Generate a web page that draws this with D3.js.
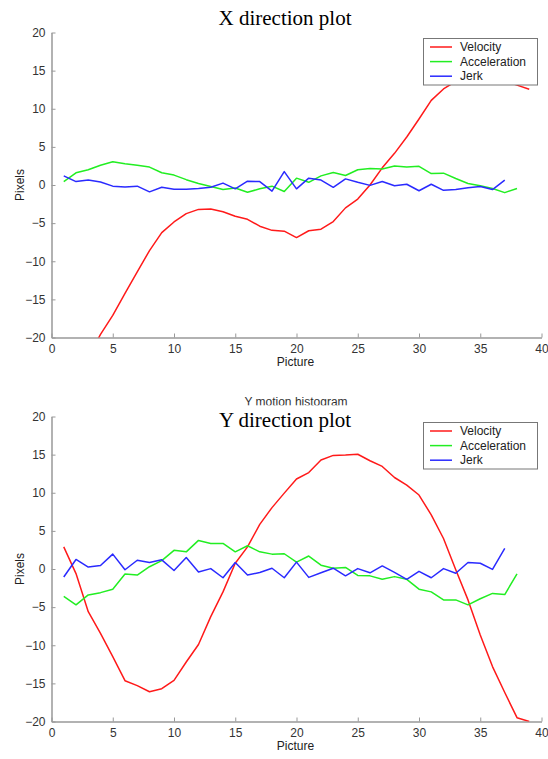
<!DOCTYPE html>
<html>
<head>
<meta charset="utf-8">
<script src="https://cdn.jsdelivr.net/npm/d3@7"></script>
<style>
  body { margin: 0; background: #fff; }
  text { font-family: "Liberation Sans", Arial, sans-serif; }
  .title { font-family: "Liberation Serif", "Times New Roman", serif; }
</style>
</head>
<body>
<div id="chart"></div>
<script>
// picture index (x values)
const pictures = [1,2,3,4,5,6,7,8,9,10,11,12,13,14,15,16,17,18,19,20,21,22,23,24,25,26,27,28,29,30,31,32,33,34,35,36,37,38,39];

// X direction
const xVelocity = [-28, -25, -22.6, -19.6, -17.1, -14.2, -11.4, -8.6, -6.25, -4.85, -3.75, -3.2, -3.15, -3.5, -4.1, -4.5, -5.4, -5.95, -6.05, -6.9,
  -6.0, -5.8, -4.8, -3.0, -1.85, 0, 2.25, 4.15, 6.3, 8.65, 11.1, 12.6, 13.6, 14.2, 14.4, 14.1, 13.6, 13.1, 12.55];
const xAcceleration = [0.44, 1.6, 2.0, 2.6, 3.05, 2.8, 2.6, 2.35, 1.6, 1.3, 0.7, 0.2, -0.2, -0.6, -0.4, -0.95, -0.5, -0.15, -0.85, 0.9,
  0.35, 1.2, 1.65, 1.25, 2.0, 2.15, 2.1, 2.5, 2.35, 2.45, 1.5, 1.55, 0.85, 0.2, -0.1, -0.45, -1.0, -0.45];
const xJerk = [1.2, 0.45, 0.65, 0.4, -0.15, -0.25, -0.15, -0.9, -0.3, -0.55, -0.55, -0.45, -0.3, 0.25, -0.5, 0.5, 0.45, -0.8, 1.75, -0.5,
  0.9, 0.65, -0.3, 0.8, 0.35, -0.05, 0.45, -0.1, 0.1, -0.75, 0.1, -0.7, -0.6, -0.35, -0.2, -0.6, 0.65];

// Y direction
const yVelocity = [2.9, -0.6, -5.6, -8.45, -11.5, -14.65, -15.3, -16.1, -15.7, -14.6, -12.2, -9.9, -6.25, -3.0, 0.75, 2.9, 5.85, 8.05, 9.95, 11.8,
  12.65, 14.3, 14.9, 14.95, 15.05, 14.2, 13.45, 12.0, 11.0, 9.7, 7.1, 4.0, -0.1, -4.05, -8.65, -12.8, -16.2, -19.5, -20.0];
const yAcceleration = [-3.6, -4.7, -3.4, -3.1, -2.65, -0.65, -0.8, 0.3, 1.1, 2.45, 2.25, 3.75, 3.35, 3.35, 2.25, 3.05, 2.25, 1.95, 2.0, 0.9,
  1.7, 0.5, 0.1, 0.2, -0.85, -0.9, -1.35, -1.0, -1.35, -2.65, -3.0, -4.05, -4.05, -4.7, -3.9, -3.2, -3.35, -0.65];
const yJerk = [-1.05, 1.25, 0.25, 0.45, 1.95, -0.1, 1.15, 0.85, 1.2, -0.2, 1.5, -0.4, 0.05, -1.15, 0.85, -0.8, -0.45, 0.1, -1.15, 0.9,
  -1.1, -0.5, 0.1, -0.9, 0.05, -0.5, 0.4, -0.45, -1.35, -0.3, -1.15, 0.05, -0.55, 0.85, 0.75, -0.05, 2.7];

const seriesNames = ["Velocity", "Acceleration", "Jerk"];
const seriesColors = ["#ff1a1a", "#22ee22", "#2a2aff"];
const xTicks = [0, 5, 10, 15, 20, 25, 30, 35, 40];
const yTicks = [-20, -15, -10, -5, 0, 5, 10, 15, 20];

const W = 548, H = 759;
const svg = d3.select("#chart").append("svg")
  .attr("width", W)
  .attr("height", H);

function drawPanel(top, title, titleY, series, idx) {
  const left = 51.5, right = 541.5;
  const height = 305;
  const x = d3.scaleLinear().domain([0, 40]).range([left, right]);
  const y = d3.scaleLinear().domain([-20, 20]).range([top + height, top]);

  const g = svg.append("g");

  // clip so lines stay inside the axes
  g.append("clipPath").attr("id", "clip" + idx)
    .append("rect")
    .attr("x", left).attr("y", top)
    .attr("width", right - left).attr("height", height);

  // axes
  const xAxis = g.append("g")
    .attr("transform", `translate(0,${top + height})`)
    .call(d3.axisBottom(x).tickValues(xTicks).tickSizeInner(-4).tickSizeOuter(0).tickPadding(7));
  const yAxis = g.append("g")
    .attr("transform", `translate(${left},0)`)
    .call(d3.axisLeft(y).tickValues(yTicks).tickSizeInner(-4).tickSizeOuter(0).tickPadding(6));

  [xAxis, yAxis].forEach(ax => {
    ax.select(".domain").attr("stroke", "#999").attr("stroke-width", 1.5);
    ax.selectAll(".tick line").attr("stroke", "#999");
    ax.selectAll(".tick text")
      .attr("fill", "#333")
      .style("font-size", "12px")
      .style("font-family", "'Liberation Sans', Arial, sans-serif");
  });

  // axis labels
  g.append("text")
    .attr("x", (left + right) / 2 - 1)
    .attr("y", top + height + 28)
    .attr("text-anchor", "middle")
    .attr("fill", "#222")
    .style("font-size", "12px")
    .text("Picture");

  g.append("text")
    .attr("transform", `translate(24,${y(0)}) rotate(-90)`)
    .attr("text-anchor", "middle")
    .attr("fill", "#222")
    .style("font-size", "12px")
    .text("Pixels");

  // lines
  const line = d3.line()
    .x((d, i) => x(pictures[i]))
    .y(d => y(d));

  const lines = g.append("g").attr("clip-path", `url(#clip${idx})`);
  series.forEach((s, i) => {
    lines.append("path")
      .datum(s)
      .attr("fill", "none")
      .attr("stroke", seriesColors[i])
      .attr("stroke-width", 1.5)
      .attr("stroke-linejoin", "round")
      .attr("d", line);
  });

  // legend
  const lg = g.append("g").attr("transform", `translate(423.5,${top + 6})`);
  lg.append("rect")
    .attr("width", 114)
    .attr("height", 46.5)
    .attr("fill", "#fff")
    .attr("stroke", "#777")
    .attr("stroke-width", 1);
  seriesNames.forEach((name, i) => {
    const ly = 8.5 + i * 14.6;
    lg.append("line")
      .attr("x1", 6.5).attr("x2", 28.5)
      .attr("y1", ly).attr("y2", ly)
      .attr("stroke", seriesColors[i])
      .attr("stroke-width", 1.5);
    lg.append("text")
      .attr("x", 36.5)
      .attr("y", ly + 4.2)
      .attr("fill", "#222")
      .style("font-size", "12px")
      .text(name);
  });

  // title
  g.append("text")
    .attr("class", "title")
    .attr("x", 285)
    .attr("y", titleY)
    .attr("text-anchor", "middle")
    .attr("fill", "#000")
    .style("font-size", "21px")
    .text(title);
}

drawPanel(32.5, "X direction plot", 24.5, [xVelocity, xAcceleration, xJerk], 0);

// leftover subtitle, its lower edge hidden by a white strip
svg.append("text")
  .attr("x", 296)
  .attr("y", 405.5)
  .attr("text-anchor", "middle")
  .attr("fill", "#333")
  .style("font-size", "12px")
  .text("Y motion histogram");
svg.append("rect")
  .attr("x", 212).attr("y", 405.3)
  .attr("width", 146).attr("height", 5)
  .attr("fill", "#fff");

drawPanel(416.5, "Y direction plot", 427, [yVelocity, yAcceleration, yJerk], 1);
</script>
</body>
</html>
